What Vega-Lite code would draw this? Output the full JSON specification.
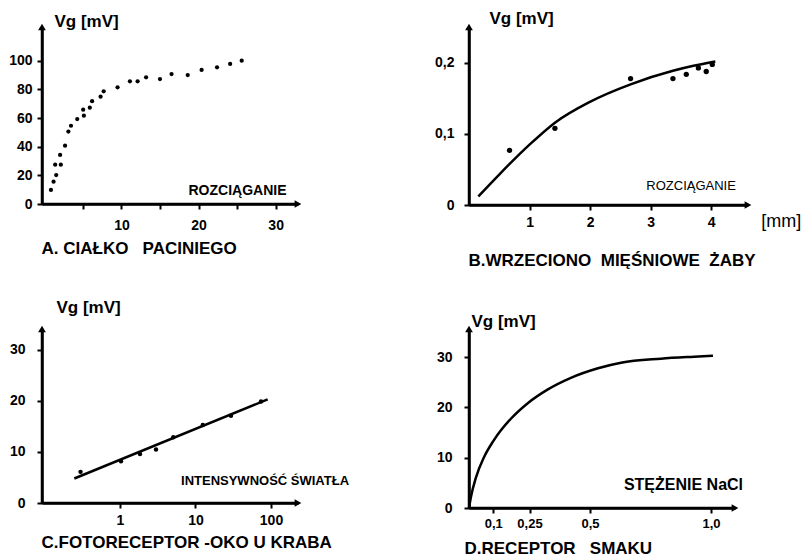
{
  "$schema": "https://vega.github.io/schema/vega-lite/v6.json",
  "padding": {"left": 8, "top": 9, "right": 0, "bottom": 0},
  "background": "white",
  "config": {
    "view": {"stroke": null},
    "axis": {
      "grid": false, "domain": true, "ticks": true, "domainColor": "#000000", "domainWidth": 2.5,
      "tickColor": "#000000", "tickWidth": 2, "tickSize": 5,
      "labelFont": "Liberation Sans", "labelFontWeight": "bold", "labelFontSize": 14, "labelColor": "#000000",
      "labelFlush": false, "labelOverlap": false,
      "titleFont": "Liberation Sans", "titleFontWeight": "bold", "titleColor": "#000000", "titleFontSize": 17,
      "titleAngle": 0, "titleAlign": "left", "titleBaseline": "alphabetic"
    }
  },
  "datasets": {
    "A_points": [
      {"x": 0.86, "y": 9.8}, {"x": 1.2, "y": 15.6}, {"x": 1.54, "y": 20.2}, {"x": 1.41, "y": 27.4},
      {"x": 2.14, "y": 27.4}, {"x": 2.05, "y": 34.2}, {"x": 2.69, "y": 40.7}, {"x": 3.12, "y": 50.5},
      {"x": 3.46, "y": 54.6}, {"x": 4.27, "y": 59.3}, {"x": 5.13, "y": 61.6}, {"x": 5.04, "y": 65.8},
      {"x": 5.9, "y": 67.2}, {"x": 6.2, "y": 71.7}, {"x": 7.3, "y": 74.9}, {"x": 7.7, "y": 78.6},
      {"x": 9.5, "y": 81.4}, {"x": 11.1, "y": 85.6}, {"x": 12.1, "y": 85.6}, {"x": 13.2, "y": 88.4},
      {"x": 15.0, "y": 87.2}, {"x": 16.5, "y": 90.7}, {"x": 18.6, "y": 90.0}, {"x": 20.4, "y": 93.5},
      {"x": 22.4, "y": 95.4}, {"x": 24.1, "y": 97.7}, {"x": 25.6, "y": 100.0}
    ],
    "B_points": [
      {"x": 0.67, "y": 0.077}, {"x": 1.42, "y": 0.108}, {"x": 2.67, "y": 0.178}, {"x": 3.37, "y": 0.178},
      {"x": 3.59, "y": 0.184}, {"x": 3.79, "y": 0.193}, {"x": 3.92, "y": 0.188}, {"x": 4.02, "y": 0.198}
    ],
    "B_curve": [
      {"x": 0.154, "y": 0.012}, {"x": 0.523, "y": 0.045}, {"x": 1.0, "y": 0.085}, {"x": 1.42, "y": 0.116},
      {"x": 1.99, "y": 0.145}, {"x": 2.67, "y": 0.170}, {"x": 3.37, "y": 0.189}, {"x": 3.71, "y": 0.196},
      {"x": 4.07, "y": 0.202}
    ],
    "C_points": [
      {"x": 0.30, "y": 6.1}, {"x": 1.03, "y": 8.2}, {"x": 1.84, "y": 9.6}, {"x": 3.0, "y": 10.5},
      {"x": 5.08, "y": 12.9}, {"x": 12.5, "y": 15.3}, {"x": 29.5, "y": 17.1}, {"x": 73.8, "y": 19.9}
    ],
    "C_line": [
      {"x": 0.248, "y": 4.8}, {"x": 90.4, "y": 20.3}
    ],
    "D_curve": [
      {"x": 0.0, "y": 0.0}, {"x": 0.008, "y": 2.2}, {"x": 0.029, "y": 6.1}, {"x": 0.062, "y": 10.1},
      {"x": 0.103, "y": 13.5}, {"x": 0.174, "y": 17.8}, {"x": 0.244, "y": 20.9}, {"x": 0.326, "y": 23.6},
      {"x": 0.421, "y": 25.9}, {"x": 0.533, "y": 27.8}, {"x": 0.628, "y": 28.9}, {"x": 0.793, "y": 29.7},
      {"x": 0.93, "y": 30.1}, {"x": 1.008, "y": 30.3}
    ],
    "one": [{"k": 1}]
  },
  "bounds": "flush",
  "columns": 2,
  "spacing": {"row": 124, "column": 171},
  "concat": [
    {
      "width": 256, "height": 177,
      "resolve": {"axis": {"x": "independent", "y": "independent"}},
      "layer": [
        {"data": {"name": "A_points"}, "mark": {"type": "point", "filled": true, "color": "#000000", "opacity": 1, "size": 18},
          "encoding": {
            "x": {"field": "x", "type": "quantitative",
              "scale": {"domain": [-0.3, 32.9], "nice": false, "zero": false},
              "axis": {"values": [5, 10, 15, 20, 25, 30], "labelExpr": "datum.value % 10 == 0 ? toString(datum.value) : ''",
                "domainWidth": 2.5, "tickWidth": 2, "labelOverlap": false,
                "labelPadding": 9, "title": "A. CIAŁKO\u00a0\u00a0 PACINIEGO", "titleX": -1, "titleY": 49}},
            "y": {"field": "y", "type": "quantitative",
              "scale": {"domain": [0, 123.5], "nice": false},
              "axis": {"values": [0, 20, 40, 60, 80, 100], "labelExpr": "toString(datum.value)", "labelPadding": 5,
                "labelAlign": "right",
                "domainWidth": 2.5, "tickWidth": 2, "labelOverlap": false,
                "title": "Vg [mV]", "titleX": 12, "titleY": -1}}
          }},
        {"data": {"name": "one"}, "mark": {"type": "rule", "color": "#000000", "strokeWidth": 2.5},
          "encoding": {"x": {"datum": -0.3, "axis": null}}},
        {"data": {"name": "one"}, "mark": {"type": "rule", "color": "#000000", "strokeWidth": 2.5},
          "encoding": {"y": {"datum": 0, "axis": null}}},
        {"data": {"name": "one"}, "mark": {"type": "point", "shape": "triangle-up", "filled": true, "color": "#000000", "opacity": 1, "size": 60},
          "encoding": {"x": {"datum": -0.3, "axis": null}, "y": {"datum": 123.5, "axis": null}}},
        {"data": {"name": "one"}, "mark": {"type": "point", "shape": "triangle-right", "filled": true, "color": "#000000", "opacity": 1, "size": 60},
          "encoding": {"x": {"datum": 32.9, "axis": null}, "y": {"datum": 0, "axis": null}}},
        {"data": {"name": "one"}, "mark": {"type": "text", "align": "left", "baseline": "alphabetic", "font": "Liberation Sans", "fontWeight": "bold", "color": "#000000", "fontSize": 14, "text": "ROZCIĄGANIE"},
          "encoding": {"x": {"datum": 18.7, "axis": null}, "y": {"datum": 6.3, "axis": null}}}
      ]
    },
    {
      "width": 279, "height": 178,
      "resolve": {"axis": {"x": "independent", "y": "independent"}},
      "layer": [
        {"data": {"name": "B_curve"}, "mark": {"type": "line", "color": "#000000", "strokeWidth": 2.5, "interpolate": "monotone"},
          "encoding": {
            "x": {"field": "x", "type": "quantitative",
              "scale": {"domain": [0, 4.61], "nice": false},
              "axis": {"values": [1, 2, 3, 4], "labelExpr": "toString(datum.value)", "labelPadding": 5,
                "domainWidth": 2.5, "tickWidth": 2, "labelOverlap": false,
                "title": "B.WRZECIONO\u00a0 MIĘŚNIOWE\u00a0 ŻABY", "titleX": -1, "titleY": 60}},
            "y": {"field": "y", "type": "quantitative",
              "scale": {"domain": [0, 0.2507], "nice": false},
              "axis": {"values": [0, 0.1, 0.2], "labelExpr": "replace(toString(datum.value), '.', ',')", "labelPadding": 10,
                "domainWidth": 2.5, "tickWidth": 2, "labelOverlap": false,
                "title": "Vg [mV]", "titleX": 20, "titleY": -4}}
          }},
        {"data": {"name": "one"}, "mark": {"type": "rule", "color": "#000000", "strokeWidth": 2.5},
          "encoding": {"x": {"datum": 0, "axis": null}}},
        {"data": {"name": "one"}, "mark": {"type": "rule", "color": "#000000", "strokeWidth": 2.5},
          "encoding": {"y": {"datum": 0, "axis": null}}},
        {"data": {"name": "B_points"}, "mark": {"type": "point", "filled": true, "color": "#000000", "opacity": 1, "size": 28},
          "encoding": {"x": {"field": "x", "type": "quantitative", "axis": null}, "y": {"field": "y", "type": "quantitative", "axis": null}}},
        {"data": {"name": "one"}, "mark": {"type": "point", "shape": "triangle-up", "filled": true, "color": "#000000", "opacity": 1, "size": 60},
          "encoding": {"x": {"datum": 0, "axis": null}, "y": {"datum": 0.2507, "axis": null}}},
        {"data": {"name": "one"}, "mark": {"type": "point", "shape": "triangle-right", "filled": true, "color": "#000000", "opacity": 1, "size": 60},
          "encoding": {"x": {"datum": 4.61, "axis": null}, "y": {"datum": 0, "axis": null}}},
        {"data": {"name": "one"}, "mark": {"type": "text", "align": "left", "baseline": "alphabetic", "font": "Liberation Sans", "color": "#000000", "fontSize": 13, "fontWeight": "normal", "text": "ROZCIĄGANIE"},
          "encoding": {"x": {"datum": 2.93, "axis": null}, "y": {"datum": 0.021, "axis": null}}},
        {"data": {"name": "one"}, "mark": {"type": "text", "align": "left", "baseline": "alphabetic", "font": "Liberation Sans", "color": "#000000", "fontSize": 18, "fontWeight": "normal", "text": "[mm]"},
          "encoding": {"x": {"datum": 4.83, "axis": null}, "y": {"datum": -0.031, "axis": null}}}
      ]
    },
    {
      "width": 256, "height": 174,
      "resolve": {"axis": {"x": "independent", "y": "independent"}},
      "layer": [
        {"data": {"name": "C_line"}, "mark": {"type": "line", "color": "#000000", "strokeWidth": 2.5},
          "encoding": {
            "x": {"field": "x", "type": "quantitative",
              "scale": {"type": "log", "domain": [0.0926, 228], "nice": false},
              "axis": {"values": [1, 10, 100], "labelExpr": "toString(datum.value)", "labelPadding": 5,
                "domainWidth": 2.5, "tickWidth": 2, "labelOverlap": false,
                "title": "C.FOTORECEPTOR -OKO U KRABA", "titleX": -1, "titleY": 44}},
            "y": {"field": "y", "type": "quantitative",
              "scale": {"domain": [0, 34.1], "nice": false},
              "axis": {"values": [0, 10, 20, 30], "labelExpr": "toString(datum.value)", "labelPadding": 12,
                "domainWidth": 2.5, "tickWidth": 2, "labelOverlap": false,
                "title": "Vg [mV]", "titleX": 14, "titleY": -17}}
          }},
        {"data": {"name": "one"}, "mark": {"type": "rule", "color": "#000000", "strokeWidth": 2.5},
          "encoding": {"x": {"datum": 0.0926, "axis": null}}},
        {"data": {"name": "one"}, "mark": {"type": "rule", "color": "#000000", "strokeWidth": 2.5},
          "encoding": {"y": {"datum": 0, "axis": null}}},
        {"data": {"name": "C_points"}, "mark": {"type": "point", "filled": true, "color": "#000000", "opacity": 1, "size": 20},
          "encoding": {"x": {"field": "x", "type": "quantitative", "axis": null}, "y": {"field": "y", "type": "quantitative", "axis": null}}},
        {"data": {"name": "one"}, "mark": {"type": "point", "shape": "triangle-up", "filled": true, "color": "#000000", "opacity": 1, "size": 60},
          "encoding": {"x": {"datum": 0.0926, "axis": null}, "y": {"datum": 34.1, "axis": null}}},
        {"data": {"name": "one"}, "mark": {"type": "point", "shape": "triangle-right", "filled": true, "color": "#000000", "opacity": 1, "size": 60},
          "encoding": {"x": {"datum": 228, "axis": null}, "y": {"datum": 0, "axis": null}}},
        {"data": {"name": "one"}, "mark": {"type": "text", "align": "left", "baseline": "alphabetic", "font": "Liberation Sans", "color": "#000000", "fontSize": 13, "fontWeight": 900, "text": "INTENSYWNOŚĆ ŚWIATŁA"},
          "encoding": {"x": {"datum": 6.43, "axis": null}, "y": {"datum": 3.5, "axis": null}}}
      ]
    },
    {
      "width": 266, "height": 179,
      "resolve": {"axis": {"x": "independent", "y": "independent"}},
      "layer": [
        {"data": {"name": "D_curve"}, "mark": {"type": "line", "color": "#000000", "strokeWidth": 2.5, "interpolate": "monotone"},
          "encoding": {
            "x": {"field": "x", "type": "quantitative",
              "scale": {"domain": [0, 1.099], "nice": false},
              "axis": {"values": [0.1, 0.25, 0.5, 1], "labelExpr": "datum.value == 1 ? '1,0' : replace(toString(datum.value), '.', ',')",
                "domainWidth": 2.5, "tickWidth": 2, "labelOverlap": false,
                "labelPadding": 4, "labelFontSize": 13,
                "title": "D.RECEPTOR\u00a0\u00a0 SMAKU", "titleX": -5, "titleY": 45}},
            "y": {"field": "y", "type": "quantitative",
              "scale": {"domain": [0, 35.6], "nice": false},
              "axis": {"values": [0, 10, 20, 30], "labelExpr": "toString(datum.value)", "labelPadding": 12,
                "domainWidth": 2.5, "tickWidth": 2, "labelOverlap": false,
                "title": "Vg [mV]", "titleX": 2, "titleY": -3}}
          }},
        {"data": {"name": "one"}, "mark": {"type": "rule", "color": "#000000", "strokeWidth": 2.5},
          "encoding": {"x": {"datum": 0, "axis": null}}},
        {"data": {"name": "one"}, "mark": {"type": "rule", "color": "#000000", "strokeWidth": 2.5},
          "encoding": {"y": {"datum": 0, "axis": null}}},
        {"data": {"name": "one"}, "mark": {"type": "point", "shape": "triangle-up", "filled": true, "color": "#000000", "opacity": 1, "size": 60},
          "encoding": {"x": {"datum": 0, "axis": null}, "y": {"datum": 35.6, "axis": null}}},
        {"data": {"name": "one"}, "mark": {"type": "point", "shape": "triangle-right", "filled": true, "color": "#000000", "opacity": 1, "size": 60},
          "encoding": {"x": {"datum": 1.099, "axis": null}, "y": {"datum": 0, "axis": null}}},
        {"data": {"name": "one"}, "mark": {"type": "text", "align": "left", "baseline": "alphabetic", "font": "Liberation Sans", "fontWeight": "bold", "color": "#000000", "fontSize": 16, "text": "STĘŻENIE NaCl"},
          "encoding": {"x": {"datum": 0.64, "axis": null}, "y": {"datum": 3.6, "axis": null}}}
      ]
    }
  ]
}
